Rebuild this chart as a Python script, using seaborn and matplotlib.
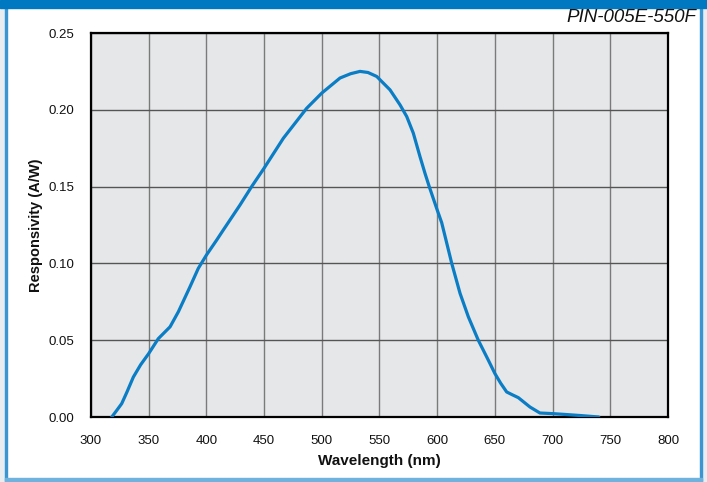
import matplotlib
matplotlib.use("Agg")
import matplotlib.pyplot as plt
from matplotlib.patches import Rectangle
import seaborn as sns
import pandas as pd

wavelength = [318, 322, 326.6, 331, 336.7, 343, 350, 358.3, 368.5, 375.7, 385.8, 393,
              400, 408.9, 414.6, 429.1, 439.2, 450, 466.7, 486.9, 500, 515.8, 525, 533.1,
              540, 547.6, 559.1, 567.8, 573.6, 579.3, 585.1, 589.4, 593.1, 600, 603.9,
              608.5, 612.6, 619.8, 627, 635.6, 644.3, 650, 655, 660.2, 665, 670.3, 680.4,
              689, 700, 712, 725, 740]
responsivity = [0.0, 0.004, 0.0087, 0.016, 0.026, 0.034, 0.0413, 0.051, 0.0587, 0.0685,
                0.0848, 0.0968, 0.1054, 0.1152, 0.1217, 0.138, 0.150, 0.162, 0.1815, 0.201,
                0.2109, 0.2207, 0.2235, 0.225, 0.2243, 0.2217, 0.213, 0.2032, 0.1956, 0.1848,
                0.1695, 0.1587, 0.150, 0.1348, 0.1265, 0.1125, 0.100, 0.0805, 0.0652, 0.050,
                0.037, 0.0283, 0.022, 0.0163, 0.0145, 0.0126, 0.0065, 0.0026, 0.0022, 0.0016,
                0.0009, 0.0]

x_ticks = [300, 350, 400, 450, 500, 550, 600, 650, 700, 750, 800]
y_ticks = [0.00, 0.05, 0.10, 0.15, 0.20, 0.25]
title = "PIN-005E-550F"

sns.set_theme(style="white")
plt.rcParams['font.family'] = ['Liberation Sans', 'DejaVu Sans']

df = pd.DataFrame({"Wavelength (nm)": wavelength, "Responsivity (A/W)": responsivity})

fig = plt.figure(figsize=(7.07, 4.82), dpi=100)
fig.patch.set_facecolor("white")

# frame decorations
W, H = 707, 482
def rect(x0, y0, w, h, color):
    fig.patches.append(Rectangle((x0 / W, 1 - (y0 + h) / H), w / W, h / H,
                                 transform=fig.transFigure, color=color, zorder=0))
rect(0, 0, 5, H, "#e9edf0")
rect(702, 0, 5, H, "#e9edf0")
rect(0, 481, W, 1, "#e9edf0")
rect(5, 0, 2, H, "#3b95d0")
rect(700, 0, 2, H, "#3b95d0")
rect(5, 478, 697, 3, "#6fb2de")
rect(0, 0, W, 8, "#0078c1")

ax = fig.add_axes([91 / W, 1 - 417 / H, (668 - 91) / W, (417 - 33) / H])
ax.set_facecolor("#e6e7e9")

sns.lineplot(data=df, x="Wavelength (nm)", y="Responsivity (A/W)", ax=ax,
             color="#0b7dc5", linewidth=2.3, sort=True, zorder=3,
             solid_joinstyle="round", solid_capstyle="round")

ax.set_xlim(300, 800)
ax.set_ylim(0, 0.25)
ax.set_xticks(x_ticks)
ax.set_yticks(y_ticks)
ax.set_xticklabels([str(t) for t in x_ticks])
ax.set_yticklabels([f"{t:.2f}" for t in y_ticks])
ax.tick_params(length=0, labelsize=9.5, colors="#111111")
ax.tick_params(axis="x", pad=13)
ax.tick_params(axis="y", pad=12)
ax.xaxis.grid(True, color="#7a7a7a", linewidth=1.0)
ax.yaxis.grid(True, color="#555555", linewidth=1.0)
ax.set_axisbelow(True)
for s in ax.spines.values():
    s.set_visible(True)
    s.set_color("black")
    s.set_linewidth(1.6)

ax.set_xlabel("Wavelength (nm)", fontsize=11, fontweight="bold", labelpad=5, color="#111111")
ax.set_ylabel("Responsivity (A/W)", fontsize=10.5, fontweight="bold", labelpad=4, color="#111111")

fig.text(696 / W, 1 - 18 / H, title, ha="right", va="center", fontsize=13.5,
         style="italic", color="#111111")

fig.savefig("out.png", dpi=100, facecolor=fig.get_facecolor())
